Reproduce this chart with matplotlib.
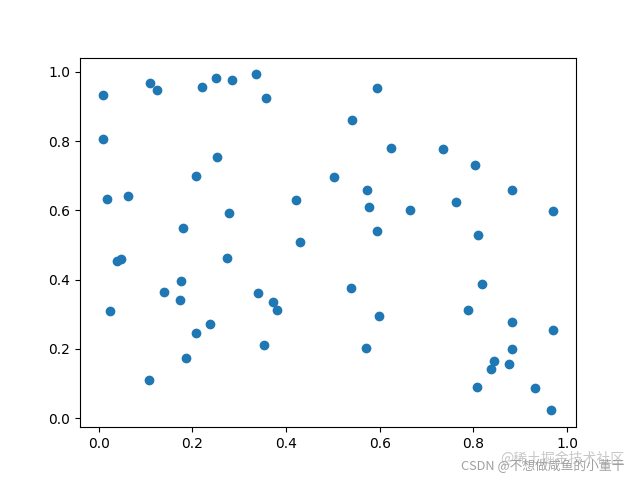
import matplotlib.pyplot as plt

x = [0.0085, 0.109, 0.125, 0.221, 0.251, 0.285, 0.336, 0.357, 0.0085, 0.253,
     0.209, 0.0177, 0.0626, 0.422, 0.278, 0.180, 0.429, 0.595, 0.541, 0.624,
     0.736, 0.804, 0.502, 0.573, 0.882, 0.577, 0.763, 0.664, 0.969, 0.595,
     0.810, 0.0385, 0.0476, 0.274, 0.176, 0.140, 0.173, 0.340, 0.372, 0.381,
     0.0241, 0.238, 0.209, 0.353, 0.186, 0.107, 0.539, 0.599, 0.571, 0.818,
     0.789, 0.882, 0.971, 0.882, 0.844, 0.877, 0.838, 0.808, 0.932, 0.966]
y = [0.933, 0.967, 0.948, 0.956, 0.983, 0.976, 0.993, 0.924, 0.805, 0.753,
     0.699, 0.633, 0.641, 0.629, 0.592, 0.548, 0.508, 0.953, 0.860, 0.779,
     0.777, 0.731, 0.696, 0.658, 0.658, 0.609, 0.624, 0.601, 0.597, 0.540,
     0.528, 0.455, 0.459, 0.462, 0.395, 0.363, 0.340, 0.360, 0.334, 0.311,
     0.308, 0.271, 0.245, 0.210, 0.173, 0.109, 0.375, 0.294, 0.202, 0.386,
     0.312, 0.277, 0.253, 0.199, 0.164, 0.157, 0.141, 0.089, 0.086, 0.022]

fig, ax = plt.subplots(figsize=(6.4, 4.8), dpi=100)
ax.scatter(x, y)

# watermarks (they overlap in the original too)
wm_font = ["Noto Sans CJK SC", "DejaVu Sans"]
fig.text(0.976, 0.045, "@稀土掘金技术社区", ha="right", va="center",
         fontsize=10, color="#c8c8c8", family=wm_font)
fig.text(0.976, 0.030, "CSDN @不想做咸鱼的小董干", ha="right", va="center",
         fontsize=9.2, color="#a0a0a0", family=wm_font)

fig.savefig("out.png")
